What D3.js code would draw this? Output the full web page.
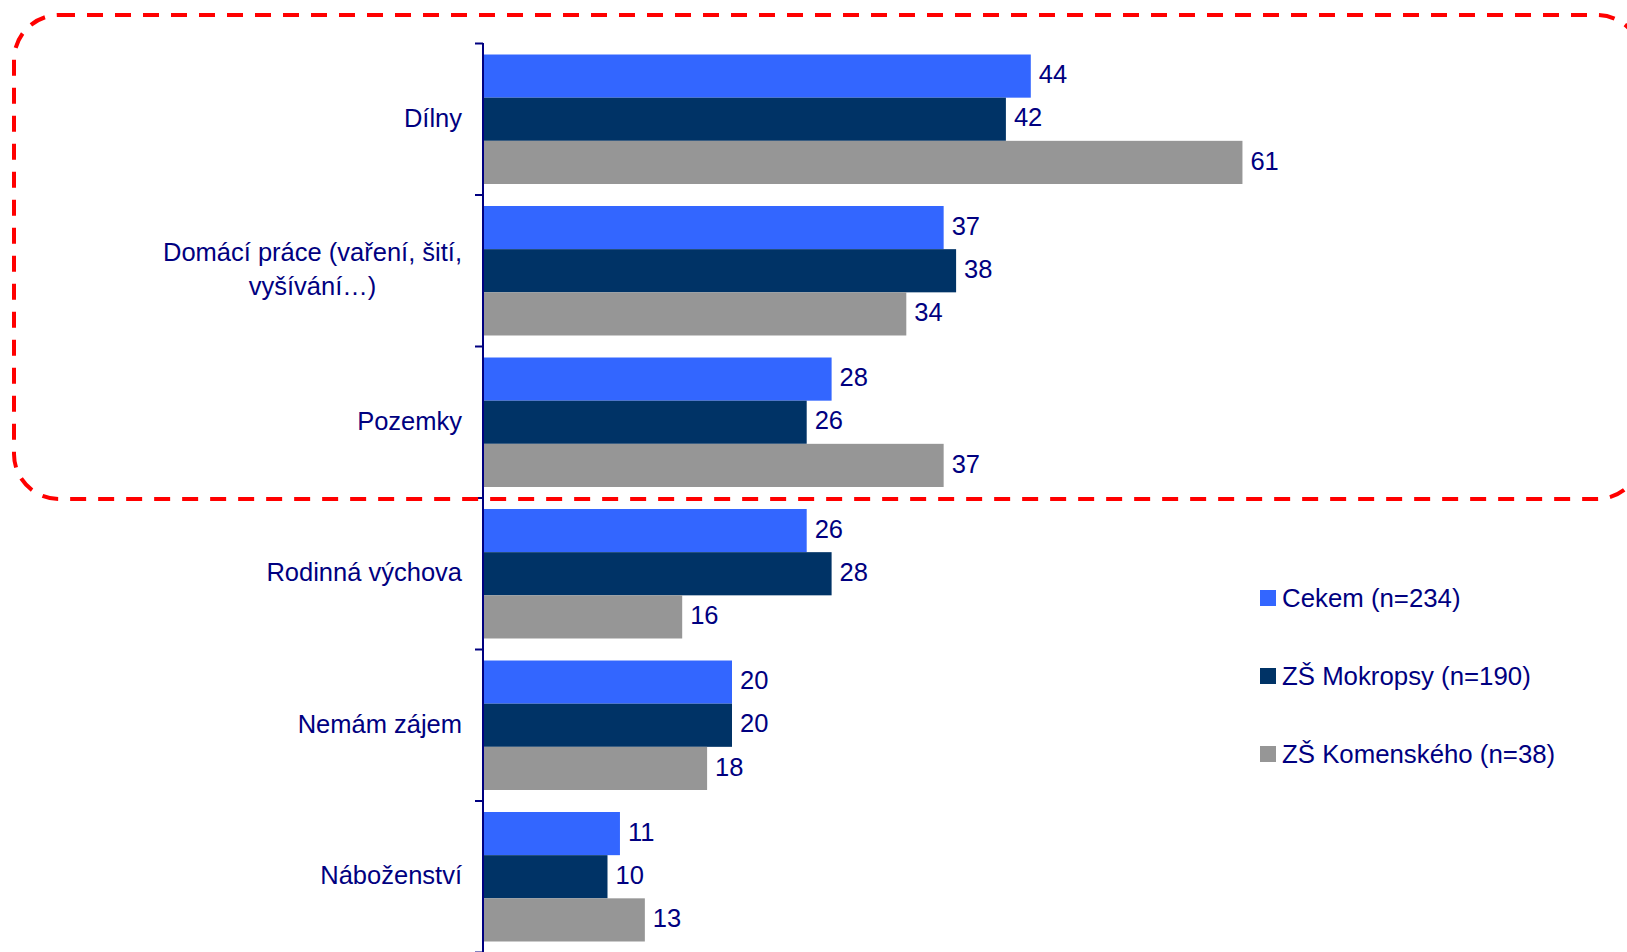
<!DOCTYPE html>
<html>
<head>
<meta charset="utf-8">
<script src="https://cdn.jsdelivr.net/npm/d3@7"></script>
<style>
  html, body { margin: 0; padding: 0; background: #fff; }
  svg { display: block; }
  text { font-family: "Liberation Sans", Arial, sans-serif; fill: #000080; }
</style>
</head>
<body>
<div id="chart"></div>
<script>
const categories = ["Dílny", "Domácí práce (vaření, šití,|vyšívání…)", "Pozemky", "Rodinná výchova", "Nemám zájem", "Náboženství"];
const seriesNames = ["Cekem (n=234)", "ZŠ Mokropsy (n=190)", "ZŠ Komenského (n=38)"];
const cekem = [44, 37, 28, 26, 20, 11];
const mokropsy = [42, 38, 26, 28, 20, 10];
const komenskeho = [61, 34, 37, 16, 18, 13];
const colors = ["#3366ff", "#003366", "#969696"];

function drawChart(targetElementId) {
    const container = document.getElementById(targetElementId);
    container.innerHTML = '';

    const width = 1627;
    const height = 952;
    const axisX = 483;

    const svg = d3.select(container).append("svg")
        .attr("width", width)
        .attr("height", height);

    const values = [cekem, mokropsy, komenskeho];

    const x = d3.scaleLinear().domain([0, 100]).range([axisX, axisX + 1245]);
    const y = d3.scaleBand().domain(categories).range([43.5, 952.5]);
    const ySub = d3.scaleBand().domain(seriesNames)
        .range([0, y.bandwidth()])
        .paddingInner(0)
        .paddingOuter(0.255);

    // bars + value labels
    categories.forEach((cat, i) => {
        const g = svg.append("g").attr("transform", `translate(0, ${y(cat)})`);
        seriesNames.forEach((s, k) => {
            const v = values[k][i];
            g.append("rect")
                .attr("x", x(0))
                .attr("y", ySub(s))
                .attr("width", x(v) - x(0))
                .attr("height", ySub.bandwidth())
                .attr("fill", colors[k]);
            g.append("text")
                .attr("x", x(v) + 8)
                .attr("y", ySub(s) + ySub.bandwidth() / 2)
                .attr("dy", "0.28em")
                .attr("font-size", 25.5)
                .text(v);
        });
    });

    // category axis
    const axis = svg.append("g");
    axis.append("line")
        .attr("x1", axisX).attr("x2", axisX)
        .attr("y1", 43).attr("y2", 952)
        .attr("stroke", "#000080").attr("stroke-width", 2);
    const tickYs = categories.map(c => y(c)).concat([y.range()[1]]);
    tickYs.forEach(t => {
        axis.append("line")
            .attr("x1", axisX - 8).attr("x2", axisX)
            .attr("y1", t).attr("y2", t)
            .attr("stroke", "#000080").attr("stroke-width", 2);
    });

    categories.forEach(cat => {
        const lines = cat.split("|");
        const cy = y(cat) + y.bandwidth() / 2;
        const lh = 34;
        const t = svg.append("text")
            .attr("font-size", 25.5)
            .attr("text-anchor", "middle");
        lines.forEach((ln, j) => {
            t.append("tspan")
                .attr("y", cy + (j - (lines.length - 1) / 2) * lh)
                .attr("dy", "0.3em")
                .text(ln);
        });
        // right-align the block, centre the lines inside it
        const w = d3.max(t.selectAll("tspan").nodes(), n => n.getComputedTextLength());
        t.selectAll("tspan").attr("x", 462 - w / 2);
    });

    // legend
    const legend = svg.append("g").attr("transform", "translate(1260, 590)");
    seriesNames.forEach((s, k) => {
        legend.append("rect")
            .attr("x", 0).attr("y", k * 78)
            .attr("width", 16).attr("height", 16)
            .attr("fill", colors[k]);
        legend.append("text")
            .attr("x", 22).attr("y", k * 78 + 8)
            .attr("dy", "0.33em")
            .attr("font-size", 25.8)
            .text(s);
    });

    // red dashed highlight
    svg.append("rect")
        .attr("x", 14).attr("y", 15)
        .attr("width", 1628).attr("height", 484)
        .attr("rx", 45).attr("ry", 45)
        .attr("fill", "none")
        .attr("stroke", "#ff0000")
        .attr("stroke-width", 4)
        .attr("stroke-dasharray", "16 12");
}

drawChart("chart");
</script>
</body>
</html>
